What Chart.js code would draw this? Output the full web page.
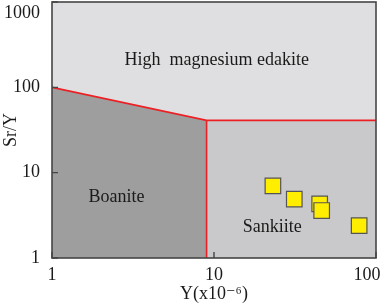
<!DOCTYPE html>
<html>
<head>
<meta charset="utf-8">
<script src="https://cdn.jsdelivr.net/npm/chart.js@4/dist/chart.umd.min.js"></script>
<style>
  body { margin: 0; background: #fff; }
  canvas { display: block; }
</style>
</head>
<body>
<canvas id="chart" width="381" height="305"></canvas>
<script>
// boundary between high-Mg edakite and the lower fields
const boundaryX = [1, 9, 100];
const boundaryY = [100, 41, 41];
// vertical divider boanite / sankiite
const dividerX = [9, 9];
const dividerY = [1, 41];

// samples: Y (ppm) and Sr/Y
const sampleY = [23.1, 31.3, 44.9, 46.2, 78.7];
const sampleSrY = [7.0, 4.9, 4.3, 3.6, 2.4];

const xTicks = [1, 10, 100];
const yTicks = [1, 10, 100, 1000];

const fieldNames = ['High  magnesium edakite', 'Boanite', 'Sankiite'];
const fieldX = [10.4, 2.5, 22.9];
const fieldY = [209, 5.2, 2.3];

const serif = '"Liberation Serif", "DejaVu Serif", serif';

const toPoints = (xs, ys) => xs.map((x, i) => ({x: x, y: ys[i]}));

const backdrop = {
    id: 'backdrop',
    beforeDatasetsDraw(chart) {
        const {ctx, chartArea: a} = chart;
        ctx.save();
        ctx.fillStyle = '#dfdfe1';
        ctx.fillRect(a.left, a.top, a.right - a.left, a.bottom - a.top);
        ctx.restore();
    },
    afterDatasetsDraw(chart) {
        const {ctx, chartArea: a, scales} = chart;
        ctx.save();
        // field names
        ctx.fillStyle = '#1a1a1a';
        ctx.textAlign = 'center';
        ctx.textBaseline = 'middle';
        ctx.font = '18px ' + serif;
        fieldNames.forEach((name, i) => {
            ctx.fillText(name, scales.x.getPixelForValue(fieldX[i]), scales.y.getPixelForValue(fieldY[i]));
        });

        // frame
        ctx.strokeStyle = '#454545';
        ctx.lineWidth = 1.6;
        ctx.strokeRect(a.left, a.top, a.right - a.left, a.bottom - a.top);

        // inward ticks
        ctx.lineWidth = 1.4;
        ctx.beginPath();
        xTicks.forEach((v) => {
            const px = scales.x.getPixelForValue(v);
            ctx.moveTo(px, a.bottom);
            ctx.lineTo(px, a.bottom - 6);
        });
        yTicks.forEach((v) => {
            const py = scales.y.getPixelForValue(v);
            ctx.moveTo(a.left, py);
            ctx.lineTo(a.left + 6, py);
        });
        ctx.stroke();
        ctx.restore();
    }
};

new Chart(document.getElementById('chart'), {
    type: 'line',
    data: {
        datasets: [
            {
                label: 'samples',
                data: toPoints(sampleY, sampleSrY),
                showLine: false,
                pointStyle: 'rect',
                pointRadius: 11,
                pointBackgroundColor: '#ffee00',
                pointBorderColor: '#555555',
                pointBorderWidth: 1.2,
                order: 0
            },
            {
                label: 'boundary',
                data: toPoints(boundaryX, boundaryY),
                borderColor: '#ec2024',
                borderWidth: 1.6,
                pointRadius: 0,
                fill: false,
                tension: 0,
                order: 1
            },
            {
                label: 'divider',
                data: toPoints(dividerX, dividerY),
                borderColor: '#ec2024',
                borderWidth: 1.6,
                pointRadius: 0,
                fill: false,
                order: 1
            },
            {
                label: 'boanite',
                data: toPoints(boundaryX.slice(0, 2), boundaryY.slice(0, 2)),
                borderWidth: 0,
                borderColor: 'rgba(0,0,0,0)',
                backgroundColor: '#9d9e9d',
                pointRadius: 0,
                fill: 'start',
                order: 2
            },
            {
                label: 'sankiite',
                data: toPoints(boundaryX, boundaryY),
                borderWidth: 0,
                borderColor: 'rgba(0,0,0,0)',
                backgroundColor: '#c9c9cb',
                pointRadius: 0,
                fill: 'start',
                order: 3
            }
        ]
    },
    options: {
        responsive: false,
        animation: false,
        layout: { autoPadding: false, padding: { top: 2, right: 5, left: 0, bottom: 0 } },
        plugins: {
            legend: { display: false },
            tooltip: { enabled: false }
        },
        scales: {
            x: {
                type: 'logarithmic',
                min: 1,
                max: 100,
                grid: { display: false, drawTicks: false },
                border: { display: false },
                afterBuildTicks: (scale) => { scale.ticks = xTicks.map((v) => ({value: v})); },
                afterFit: (scale) => {
                    scale.height = 47;
                    scale.paddingLeft = 0;
                    scale.paddingRight = 0;
                },
                ticks: {
                    padding: 6,
                    maxRotation: 0,
                    autoSkip: false,
                    color: '#1a1a1a',
                    font: { family: serif, size: 18 },
                    callback: (v) => v === 100 ? '100    ' : String(v)
                },
                title: {
                    display: true,
                    text: 'Y(x10⁻⁶)',
                    color: '#1a1a1a',
                    padding: 0,
                    font: { family: serif, size: 18 }
                }
            },
            y: {
                type: 'logarithmic',
                min: 1,
                max: 1000,
                grid: { display: false, drawTicks: false },
                border: { display: false },
                afterBuildTicks: (scale) => { scale.ticks = yTicks.map((v) => ({value: v})); },
                afterFit: (scale) => {
                    scale.width = 52;
                    scale.paddingTop = 0;
                    scale.paddingBottom = 0;
                },
                ticks: {
                    padding: 12,
                    autoSkip: false,
                    color: '#1a1a1a',
                    font: { family: serif, size: 18 },
                    callback: (v) => v === 1000 ? ['', '1000'] : String(v)
                },
                title: {
                    display: true,
                    text: 'Sr/Y',
                    color: '#1a1a1a',
                    padding: 0,
                    font: { family: serif, size: 18 }
                }
            }
        }
    },
    plugins: [backdrop]
});
</script>
</body>
</html>
